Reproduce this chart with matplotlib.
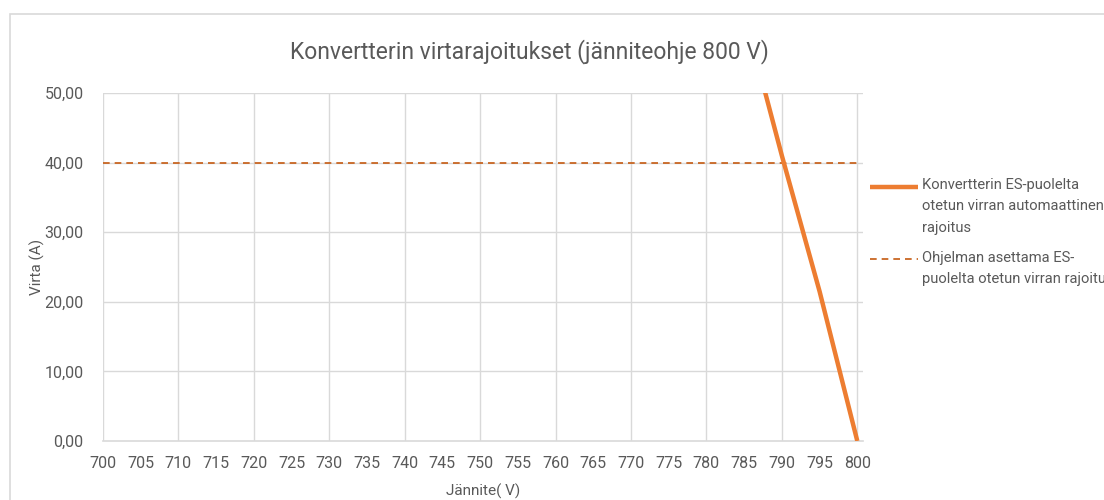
import matplotlib; matplotlib.use('Agg')
import numpy as np
import matplotlib.pyplot as plt
from matplotlib.patches import Rectangle
from matplotlib.legend_handler import HandlerLine2D
from matplotlib.ticker import MultipleLocator, FuncFormatter

plt.rcParams['font.family'] = ['Roboto', 'DejaVu Sans']

# Automatic current limit of the converter (A) against voltage (V)
voltage = [785, 790, 795, 800]
current_auto = [61.5, 41.0, 21.5, 0.0]
# Limit set by the program
voltage_set = [700, 800]
current_set = [40.0, 40.0]

label_auto = 'Konvertterin ES-puolelta\notetun virran automaattinen\nrajoitus'
label_set = 'Ohjelman asettama ES-\npuolelta otetun virran rajoitus'

grey = '#595959'
grid = '#D9D9D9'


class TopLine(HandlerLine2D):
    """Legend line that sits level with the first row of a wrapped label."""
    def __init__(self, shift, **kw):
        super().__init__(**kw)
        self.shift = shift

    def create_artists(self, legend, orig_handle, xdescent, ydescent,
                       width, height, fontsize, trans):
        arts = super().create_artists(legend, orig_handle, xdescent, ydescent,
                                      width, height, fontsize, trans)
        for a in arts:
            a.set_ydata(np.asarray(a.get_ydata()) + self.shift)
        return arts


fig = plt.figure(figsize=(11.04, 5.0), dpi=100)
ax = fig.add_axes([0.0933, 0.118, 0.6887, 0.696])

# chart frame
fig.patches.append(Rectangle((10 / 1104, -0.1), 1.2, 1 - 13.5 / 500 + 0.1,
                             transform=fig.transFigure, fill=False,
                             edgecolor=grid, linewidth=1.2))

auto_line, = ax.plot(voltage, current_auto, color='#ED7D31', linewidth=3.2,
                     solid_capstyle='butt', label=label_auto, zorder=3)
set_line, = ax.plot(voltage_set, current_set, color='#C55A11', linewidth=1.2,
                    linestyle=(0, (4, 3)), label=label_set, zorder=2)

ax.set_xlim(700, 800.8)
ax.set_ylim(0, 50)
ax.xaxis.set_major_locator(MultipleLocator(5))
ax.yaxis.set_major_locator(MultipleLocator(10))
ax.yaxis.set_major_formatter(FuncFormatter(lambda v, p: f'{v:.2f}'.replace('.', ',')))

# vertical gridlines every 10 V, horizontal every 10 A
for x in range(700, 801, 10):
    ax.axvline(x, color=grid, linewidth=1.0, zorder=1)
for y in range(10, 51, 10):
    ax.axhline(y, color=grid, linewidth=1.0, zorder=1)

for s in ['top', 'right', 'left']:
    ax.spines[s].set_visible(False)
ax.spines['bottom'].set_color(grid)
ax.spines['bottom'].set_linewidth(1.2)
ax.tick_params(length=0, colors=grey, labelsize=11.5)
ax.tick_params(axis='x', pad=11)
ax.tick_params(axis='y', pad=14)

fig.text(0.48, 0.896, 'Konvertterin virtarajoitukset (jänniteohje 800 V)',
         color=grey, fontsize=16.5, ha='center', va='center')
ax.set_xlabel('Jännite( V)', color=grey, fontsize=11)
ax.set_ylabel('Virta (A)', color=grey, fontsize=11)
ax.xaxis.set_label_coords(0.5, -0.122)
ax.yaxis.set_label_coords(-0.076, 0.5)

leg = ax.legend(loc='upper left', bbox_to_anchor=(870 / 1104, 1 - 178 / 500),
                bbox_transform=fig.transFigure, frameon=False, fontsize=10.6,
                borderpad=0, borderaxespad=0, handlelength=3.25,
                handletextpad=0.3, labelspacing=1.1, labelcolor=grey,
                handler_map={auto_line: TopLine(14.0), set_line: TopLine(7.3)})
for t in leg.get_texts():
    t.set_linespacing(1.66)

fig.savefig('out.png', dpi=100)
